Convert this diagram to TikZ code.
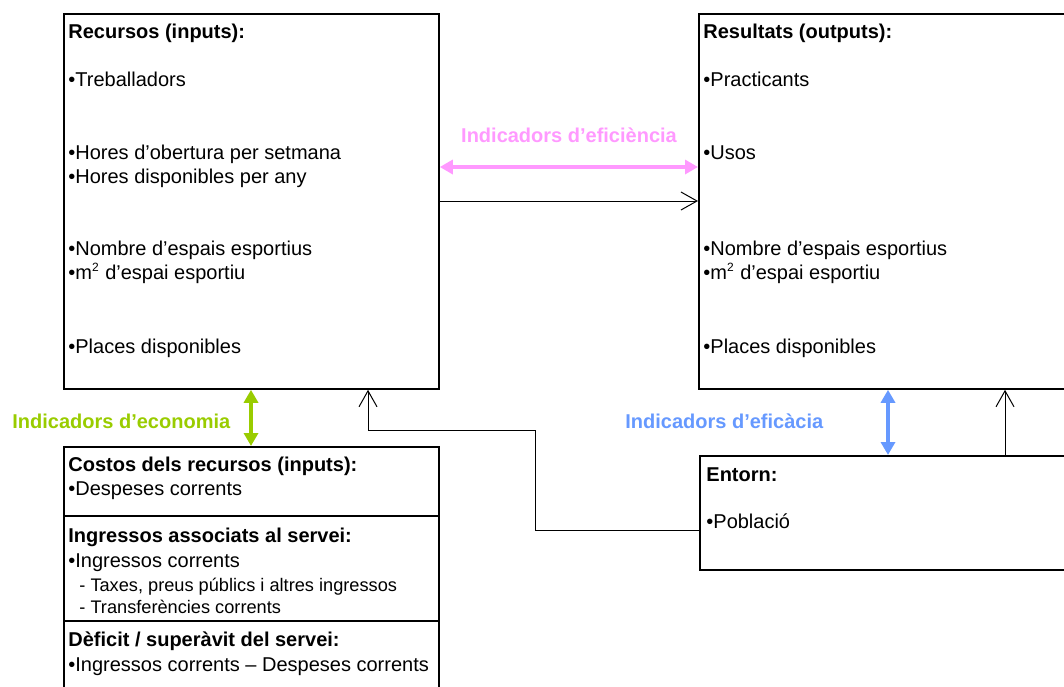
\documentclass[tikz,border=0pt]{standalone}
\usepackage{fontspec}
\setmainfont{Liberation Sans}
\usetikzlibrary{arrows.meta}
\definecolor{pinkind}{RGB}{255,153,255}
\definecolor{greenind}{RGB}{153,204,0}
\definecolor{blueind}{RGB}{102,153,255}
\newcommand{\sqm}{m\textsuperscript{\fontsize{6}{7}\selectfont 2}}

\begin{document}
\begin{tikzpicture}[x=0.5pt,y=-0.5pt,>={Triangle[length=6.5pt,width=7pt]}]
            \tikzstyle{box} = [draw=black,line width=0.9pt,inner sep=0,anchor=north west];
            \tikzstyle{txt} = [anchor=base west,inner sep=0,font=\fontsize{10}{12}\selectfont];
            \tikzstyle{hd} = [txt,font=\fontsize{10}{12}\selectfont\bfseries];
            \tikzstyle{sml} = [txt,font=\fontsize{9.1}{11}\selectfont];
            \tikzstyle{lbl} = [inner sep=0,font=\fontsize{10}{12}\selectfont\bfseries];
            \tikzstyle{link} = [line width=0.5pt,-{Straight Barb[length=8pt,width=9pt]}];
            \useasboundingbox (0,0) rectangle (1064,686);
            \clip (0,0) rectangle (1064,686);
            % boxes
            \node[box,minimum width=187.5pt,minimum height=187.5pt] (rec) at (63,13) {};
            \node[box,minimum width=210pt,minimum height=187.5pt] (res) at (698,13) {};
            \node[box,minimum width=210pt,minimum height=57pt] (ent) at (699,455) {};
            \node[box,minimum width=187.5pt,minimum height=140pt] (cost) at (63,446) {};
            \draw[line width=0.9pt] (cost.west |- 0,516) -- (cost.east |- 0,516);
            \draw[line width=0.9pt] (cost.west |- 0,621) -- (cost.east |- 0,621);
            % inputs
            \node[hd] (rec-h) at (68,38) {Recursos (inputs):};
            \node[txt] (rec-1) at (68,86) {•Treballadors};
            \node[txt] (rec-2) at (68,159) {•Hores d’obertura per setmana};
            \node[txt] (rec-3) at (68,183) {•Hores disponibles per any};
            \node[txt] (rec-4) at (68,255) {•Nombre d’espais esportius};
            \node[txt] (rec-5) at (68,279) {•\sqm{} d’espai esportiu};
            \node[txt] (rec-6) at (68,353) {•Places disponibles};
            % outputs
            \node[hd] (res-h) at (703,38) {Resultats (outputs):};
            \node[txt] (res-1) at (703,86) {•Practicants};
            \node[txt] (res-2) at (703,159) {•Usos};
            \node[txt] (res-3) at (703,255) {•Nombre d’espais esportius};
            \node[txt] (res-4) at (703,279) {•\sqm{} d’espai esportiu};
            \node[txt] (res-5) at (703,353) {•Places disponibles};
            % entorn
            \node[hd] (ent-h) at (706,481) {Entorn:};
            \node[txt] (ent-1) at (706,528) {•Població};
            % costs
            \node[hd] (cost-h) at (68,471) {Costos dels recursos (inputs):};
            \node[txt] (cost-1) at (68,495) {•Despeses corrents};
            \node[hd] (ing-h) at (68,542) {Ingressos associats al servei:};
            \node[txt] (ing-1) at (68,567) {•Ingressos corrents};
            \node[sml] (ing-2) at (79,591) {- Taxes, preus públics i altres ingressos};
            \node[sml] (ing-3) at (79,613) {- Transferències corrents};
            \node[hd] (def-h) at (68,646) {Dèficit / superàvit del servei:};
            \node[txt] (def-1) at (68,671) {•Ingressos corrents – Despeses corrents};
            % indicators
            \node[lbl,text=pinkind,anchor=base] (efi) at (569,142) {Indicadors d’eficiència};
            \node[lbl,text=greenind,anchor=base west] (eco) at (12,428) {Indicadors d’economia};
            \node[lbl,text=blueind,anchor=base west] (efa) at (625,428) {Indicadors d’eficàcia};
            \draw[<->,line width=2pt,draw=pinkind] (rec.east |- 0,167) -- (res.west |- 0,167);
            \draw[<->,line width=2pt,draw=greenind] (rec.south -| 251,0) -- (cost.north -| 251,0);
            \draw[<->,line width=2pt,draw=blueind] (res.south -| 888,0) -- (ent.north -| 888,0);
            % links
            \draw[link] (rec.east |- 0,201) -- (res.west |- 0,201);
            \draw[link] (ent.north -| 1005,0) -- (res.south -| 1005,0);
            \draw[link] (ent.west |- 0,530) -| (535,430) -| (rec.south -| 368,0);
        \end{tikzpicture}
\end{document}
